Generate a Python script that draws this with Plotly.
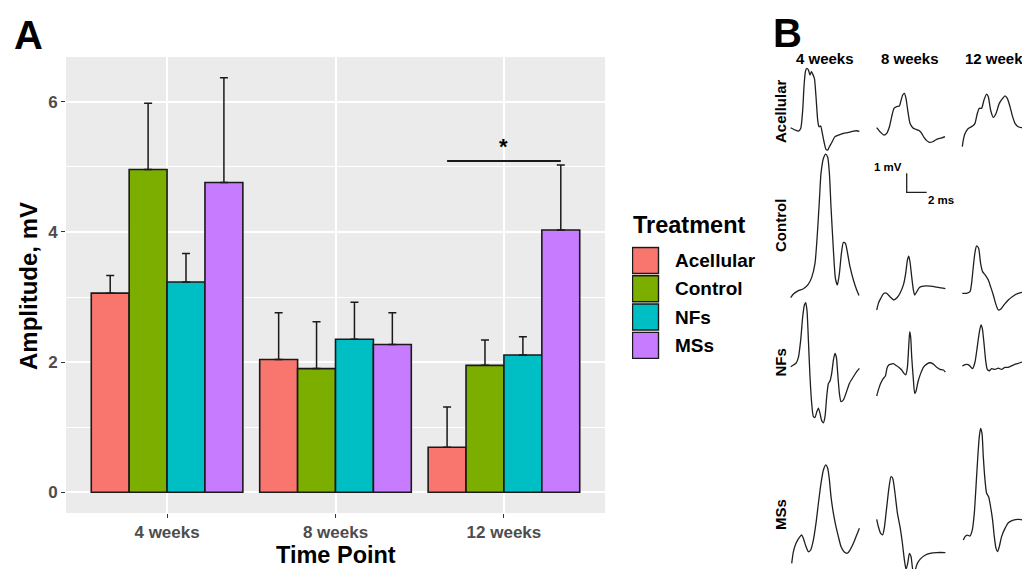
import plotly.graph_objects as go

W, H = 1022, 569
FONT = "Liberation Sans, Arial, sans-serif"

# ---------------- Panel A data ----------------
WEEKS = ["4 weeks", "8 weeks", "12 weeks"]
TREATMENTS = ["Acellular", "Control", "NFs", "MSs"]
COLORS = ["#F8766D", "#7CAE00", "#00BFC4", "#C77CFF"]

ACELLULAR_MEAN = [3.06, 2.04, 0.69]
CONTROL_MEAN = [4.96, 1.90, 1.95]
NFS_MEAN = [3.23, 2.35, 2.11]
MSS_MEAN = [4.76, 2.27, 4.03]

ACELLULAR_ERR = [0.27, 0.72, 0.62]
CONTROL_ERR = [1.02, 0.72, 0.39]
NFS_ERR = [0.44, 0.57, 0.28]
MSS_ERR = [1.61, 0.49, 1.00]

SIG_Y = 5.09          # height of the significance bracket (12 weeks)
SIG_LABEL = "*"

# ---------------- Panel B data (ms, mV) ----------------
ACEL_4W_T = [0, 0.43, 0.77, 1.0, 1.2, 1.33, 1.47, 1.6, 1.77, 1.93, 2.07, 2.2, 2.37, 2.53, 2.7, 2.83, 3.0, 3.13, 3.33, 3.53, 3.7, 3.87, 4.1, 4.43, 4.77, 5.27, 5.77, 6.27, 6.6, 6.87]
ACEL_4W_V = [0, -0.12, -0.18, -0.04, 0.93, 2.16, 2.95, 3.12, 3.04, 2.77, 2.95, 2.82, 2.6, 1.63, 0.4, 0.05, 0.09, -0.21, -0.74, -1.14, -1.18, -1.0, -0.79, -0.47, -0.39, -0.3, -0.25, -0.18, -0.16, -0.19]
ACEL_8W_T = [0, 0.33, 0.73, 1.0, 1.27, 1.5, 1.73, 2.0, 2.27, 2.4, 2.6, 2.77, 2.93, 3.1, 3.33, 3.6, 3.93, 4.27, 4.5, 4.73, 5.0, 5.27, 5.6, 6.0, 6.5, 6.83]
ACEL_8W_V = [0, -0.21, -0.39, -0.3, 0.05, 0.58, 1.02, 1.11, 1.14, 1.37, 1.72, 1.81, 1.54, 0.93, 0.23, 0, -0.09, -0.16, -0.3, -0.51, -0.68, -0.77, -0.74, -0.61, -0.54, -0.47]
ACEL_12W_T = [0, 0.1, 0.27, 0.6, 1.03, 1.27, 1.5, 1.7, 1.93, 2.17, 2.43, 2.6, 2.83, 3.1, 3.37, 3.7, 4.03, 4.27, 4.5, 4.77, 5.03, 5.27, 5.6, 5.93, 6.4]
ACEL_12W_V = [0, 0.35, 0.7, 0.96, 1.09, 1.23, 1.75, 2.02, 2.02, 2.46, 2.77, 2.63, 1.93, 1.54, 1.75, 2.28, 2.54, 2.68, 2.54, 2.11, 1.58, 1.23, 1.05, 1.0, 0.98]

CTRL_4W_T = [0, 0.27, 0.77, 1.27, 1.77, 2.1, 2.43, 2.67, 2.87, 3.03, 3.27, 3.5, 3.7, 3.87, 4.03, 4.27, 4.47, 4.67, 4.87, 5.07, 5.27, 5.47, 5.7, 5.93, 6.27, 6.6, 6.83]
CTRL_4W_V = [0, 0.19, 0.37, 0.47, 0.72, 1.07, 1.81, 3.39, 5.14, 6.54, 7.33, 7.56, 7.39, 6.54, 4.79, 2.51, 1.02, 0.67, 1.28, 2.33, 2.91, 2.86, 2.3, 1.63, 0.93, 0.4, 0.11]
CTRL_8W_T = [0, 0.17, 0.4, 0.73, 1.0, 1.33, 1.73, 2.07, 2.33, 2.67, 2.9, 3.07, 3.2, 3.33, 3.5, 3.67, 3.8, 4.0, 4.27, 4.67, 5.33, 6.17, 6.87]
CTRL_8W_V = [0, 0.35, 0.61, 0.88, 0.88, 0.7, 0.53, 0.67, 0.88, 1.32, 1.93, 2.63, 2.84, 2.54, 1.75, 1.05, 0.79, 0.96, 1.19, 1.26, 1.26, 1.19, 1.12]
CTRL_12W_T = [0, 0.43, 0.77, 0.93, 1.1, 1.27, 1.43, 1.63, 1.83, 2.03, 2.3, 2.6, 2.83, 3.1, 3.33, 3.6, 3.83, 4.17, 4.6, 5.1, 5.6, 6.0, 6.4]
CTRL_12W_V = [0, 0, 0.09, 0.53, 1.4, 2.16, 2.49, 2.37, 1.58, 1.14, 0.96, 0.7, 0.35, -0.09, -0.53, -0.88, -0.84, -0.61, -0.35, -0.14, 0, 0.05, 0.07]

NFS_4W_T = [0, 0.27, 0.53, 0.77, 1.0, 1.2, 1.37, 1.5, 1.63, 1.77, 1.93, 2.1, 2.27, 2.43, 2.6, 2.77, 2.93, 3.1, 3.27, 3.43, 3.6, 3.77, 3.93, 4.1, 4.27, 4.43, 4.57, 4.7, 4.87, 5.03, 5.27, 5.53, 5.87, 6.27, 6.6, 6.87]
NFS_4W_V = [0, 0.09, 0.18, 0.49, 1.4, 2.63, 3.25, 3.37, 2.95, 1.4, -0.53, -1.93, -2.63, -2.67, -2.39, -2.18, -2.46, -2.84, -2.95, -2.63, -1.58, -0.88, -0.75, -0.35, 0.35, 0.7, 0.49, -0.35, -1.4, -1.84, -1.75, -1.4, -0.88, -0.53, -0.26, -0.09]
NFS_8W_T = [0, 0.17, 0.4, 0.67, 0.87, 1.03, 1.2, 1.43, 1.67, 1.93, 2.2, 2.5, 2.73, 2.9, 3.07, 3.2, 3.3, 3.4, 3.5, 3.67, 3.8, 3.93, 4.13, 4.4, 4.67, 5.0, 5.33, 5.67, 6.0, 6.33, 6.67, 6.87]
NFS_8W_V = [0, 0.32, 0.67, 0.93, 1.05, 1.46, 1.63, 1.68, 1.7, 1.61, 1.51, 1.37, 1.19, 1.11, 1.51, 2.6, 3.39, 3.09, 2.07, 0.84, 0.14, 0.25, 0.75, 1.19, 1.51, 1.68, 1.75, 1.68, 1.51, 1.4, 1.37, 1.26]
NFS_12W_T = [0, 0.27, 0.6, 0.83, 1.03, 1.27, 1.5, 1.7, 1.87, 2.0, 2.17, 2.33, 2.5, 2.7, 2.93, 3.27, 3.6, 3.93, 4.27, 4.6, 5.1, 5.6, 6.0, 6.4]
NFS_12W_V = [0, 0.07, 0.07, -0.04, -0.14, 0.21, 1.02, 1.77, 2.16, 1.98, 1.19, 0.32, -0.18, -0.25, -0.14, -0.18, -0.11, -0.18, -0.07, -0.07, 0.05, 0.14, 0.21, 0.26]

MSS_4W_T = [0, 0.17, 0.43, 0.77, 1.0, 1.17, 1.43, 1.67, 1.9, 2.17, 2.43, 2.67, 2.93, 3.17, 3.4, 3.6, 3.77, 3.93, 4.17, 4.43, 4.67, 4.93, 5.23, 5.57, 5.83, 6.17, 6.5, 6.77]
MSS_4W_V = [0, 0.61, 1.05, 1.37, 1.49, 1.3, 0.88, 0.61, 0.7, 1.23, 2.11, 3.16, 4.21, 4.91, 5.18, 5.0, 4.39, 3.51, 2.63, 1.93, 1.4, 0.88, 0.61, 0.53, 0.7, 1.05, 1.49, 1.84]
MSS_8W_T = [0, 0.17, 0.4, 0.6, 0.77, 1.0, 1.23, 1.43, 1.6, 1.83, 2.07, 2.33, 2.57, 2.77, 2.93, 3.1, 3.27, 3.43, 3.6, 3.77, 4.0, 4.33, 4.83, 5.33, 6.0, 6.87]
MSS_8W_V = [0, -0.39, -0.74, -0.82, -0.42, 0.63, 1.68, 2.25, 2.16, 1.37, 0.32, -0.39, -1.26, -2.14, -2.63, -2.32, -1.79, -1.96, -2.63, -2.84, -2.4, -2.11, -1.89, -1.79, -1.75, -1.75]
MSS_12W_T = [0, 0.17, 0.4, 0.67, 0.9, 1.1, 1.27, 1.43, 1.6, 1.73, 1.87, 2.0, 2.17, 2.33, 2.53, 2.73, 2.93, 3.1, 3.27, 3.43, 3.6, 3.83, 4.17, 4.5, 5.0, 5.5, 6.0, 6.4]
MSS_12W_V = [0, 0.18, 0.26, 0.21, 0.53, 1.4, 2.81, 4.21, 5.44, 5.88, 5.61, 4.39, 3.16, 2.46, 2.28, 1.75, 1.05, 0.18, -0.44, -0.61, -0.35, 0.18, 0.61, 0.91, 1.05, 1.09, 1.05, 1.05]

B_ROWS = ["Acellular", "Control", "NFs", "MSs"]
B_COLS = ["4 weeks", "8 weeks", "12 weeks"]
SCALE_MV = 1
SCALE_MS = 2
SCALE_LABELS = ["1 mV", "2 ms"]

WAVES = {
    (0, 0): (ACEL_4W_T, ACEL_4W_V), (0, 1): (ACEL_8W_T, ACEL_8W_V), (0, 2): (ACEL_12W_T, ACEL_12W_V),
    (1, 0): (CTRL_4W_T, CTRL_4W_V), (1, 1): (CTRL_8W_T, CTRL_8W_V), (1, 2): (CTRL_12W_T, CTRL_12W_V),
    (2, 0): (NFS_4W_T, NFS_4W_V), (2, 1): (NFS_8W_T, NFS_8W_V), (2, 2): (NFS_12W_T, NFS_12W_V),
    (3, 0): (MSS_4W_T, MSS_4W_V), (3, 1): (MSS_8W_T, MSS_8W_V), (3, 2): (MSS_12W_T, MSS_12W_V),
}

# ---------------- layout helpers (pixel placement) ----------------
PX_PER_MS = 10.0
PX_PER_MV = 19.0
# pixel position of each trace start (x, y)
CELL_ORIGIN_PX = {
    (0, 0): (790.7, 127.7), (0, 1): (876.7, 127.7), (0, 2): (962.3, 146.7),
    (1, 0): (790.7, 297.7), (1, 1): (876.7, 310.0), (1, 2): (962.3, 293.3),
    (2, 0): (790.7, 366.7), (2, 1): (876.7, 396.0), (2, 2): (962.3, 366.0),
    (3, 0): (791.7, 563.3), (3, 1): (876.7, 519.3), (3, 2): (963.3, 540.0),
}


def xd(a, b):
    return [a / W, b / W]


def yd(top, bottom):
    return [1 - bottom / H, 1 - top / H]


def px_axes(x0, y0, left, right, up, down):
    xl, xr = max(x0 - left, 0), min(x0 + right, W)
    yt, yb = max(y0 - up, 0), min(y0 + down, H)
    xa = dict(domain=xd(xl, xr), range=[(xl - x0) / PX_PER_MS, (xr - x0) / PX_PER_MS], visible=False, fixedrange=True)
    ya = dict(domain=yd(yt, yb), range=[(y0 - yb) / PX_PER_MV, (y0 - yt) / PX_PER_MV], visible=False, fixedrange=True)
    return xa, ya


fig = go.Figure()

# ---------------- Panel A ----------------
X_POS = list(range(1, len(WEEKS) + 1))
GROUP_W = 0.9
means = [ACELLULAR_MEAN, CONTROL_MEAN, NFS_MEAN, MSS_MEAN]
errs = [ACELLULAR_ERR, CONTROL_ERR, NFS_ERR, MSS_ERR]
for name, col, m, e in zip(TREATMENTS, COLORS, means, errs):
    fig.add_trace(go.Bar(
        x=X_POS, y=m, name=name, marker=dict(color=col, line=dict(color="#1a1a1a", width=1.6)),
        error_y=dict(type="data", symmetric=False, array=e, arrayminus=[0] * len(e),
                     color="#1a1a1a", thickness=1.5, width=4),
        showlegend=False, xaxis="x", yaxis="y", hoverinfo="skip"))

off = GROUP_W / len(TREATMENTS) * (len(TREATMENTS) - 1) / 2
fig.add_trace(go.Scatter(x=[X_POS[2] - off, X_POS[2] + off], y=[SIG_Y, SIG_Y], mode="lines",
                         line=dict(color="#1a1a1a", width=2), showlegend=False, xaxis="x", yaxis="y"))

layout = dict(
    width=W, height=H, margin=dict(l=0, r=0, t=0, b=0),
    paper_bgcolor="white", plot_bgcolor="rgba(0,0,0,0)",
    barmode="group", bargap=1 - GROUP_W, bargroupgap=0,
    font=dict(family=FONT, color="black"),
    showlegend=False,
    xaxis=dict(domain=xd(66, 605), range=[0.4, 3.6], tickmode="array", tickvals=X_POS, ticktext=WEEKS,
               showgrid=True, gridcolor="white", gridwidth=1.8, zeroline=False, showline=False,
               ticks="outside", ticklen=4, tickwidth=1.2, tickcolor="#333333",
               tickfont=dict(size=17, color="#4D4D4D", family=FONT, weight="bold"), fixedrange=True),
    yaxis=dict(domain=yd(57, 513), range=[-0.32, 6.69], tickmode="array", tickvals=[0, 2, 4, 6],
               showgrid=True, gridcolor="white", gridwidth=1.8, zeroline=False, showline=False,
               ticks="outside", ticklen=4, tickwidth=1.2, tickcolor="#333333",
               minor=dict(tickmode="array", tickvals=[1, 3, 5], showgrid=True, gridcolor="white", gridwidth=0.9),
               tickfont=dict(size=17, color="#4D4D4D", family=FONT, weight="bold"), fixedrange=True),
)

shapes = [dict(type="rect", xref="x domain", yref="y domain", x0=0, x1=1, y0=0, y1=1,
               fillcolor="#EBEBEB", line=dict(width=0), layer="below")]

annotations = [
    dict(text="A", x=12 / W, y=1 - 35 / H, xref="paper", yref="paper", xanchor="left", yanchor="middle",
         showarrow=False, font=dict(size=40, weight="bold", family=FONT)),
    dict(text="B", x=771 / W, y=1 - 33 / H, xref="paper", yref="paper", xanchor="left", yanchor="middle",
         showarrow=False, font=dict(size=40, weight="bold", family=FONT)),
    dict(text="Amplitude, mV", x=28 / W, y=1 - 286 / H, xref="paper", yref="paper", textangle=-90,
         xanchor="center", yanchor="middle", showarrow=False, font=dict(size=24, weight="bold", family=FONT)),
    dict(text="Time Point", x=335.5 / W, y=1 - 555 / H, xref="paper", yref="paper",
         xanchor="center", yanchor="middle", showarrow=False, font=dict(size=23.5, weight="bold", family=FONT)),
    dict(text=SIG_LABEL, x=X_POS[2], y=SIG_Y, xref="x", yref="y", xanchor="center", yanchor="bottom",
         showarrow=False, font=dict(size=22, weight="bold", family=FONT)),
    dict(text="Treatment", x=631 / W, y=1 - 225 / H, xref="paper", yref="paper", xanchor="left", yanchor="middle",
         showarrow=False, font=dict(size=23.5, weight="bold", family=FONT)),
]

# ---------------- Legend (drawn as its own small axis) ----------------
layout["xaxis2"] = dict(domain=xd(632, 770), range=[-13.5, 124.5], visible=False, fixedrange=True)
layout["yaxis2"] = dict(domain=yd(246.3, 359.5), range=[len(TREATMENTS) - 0.5, -0.5], visible=False, fixedrange=True)
fig.add_trace(go.Scatter(x=[0] * len(TREATMENTS), y=list(range(len(TREATMENTS))), mode="markers",
                         marker=dict(symbol="square", size=26, color=COLORS, line=dict(color="#1a1a1a", width=1.4)),
                         xaxis="x2", yaxis="y2", showlegend=False, hoverinfo="skip"))
for i, name in enumerate(TREATMENTS):
    annotations.append(dict(text=name, x=27, y=i, xref="x2", yref="y2", xanchor="left", yanchor="middle",
                            showarrow=False, font=dict(size=19, weight="bold", family=FONT)))

# ---------------- Panel B ----------------
n = 3
for (r, c), (t, v) in WAVES.items():
    x0, y0 = CELL_ORIGIN_PX[(r, c)]
    xa, ya = px_axes(x0, y0, 4, 80, 150, 62)
    layout[f"xaxis{n}"] = dict(xa, anchor=f"y{n}")
    layout[f"yaxis{n}"] = dict(ya, anchor=f"x{n}")
    fig.add_trace(go.Scatter(x=t, y=v, mode="lines", line=dict(color="#1f1f1f", width=1.3, shape="spline", smoothing=0.6),
                             xaxis=f"x{n}", yaxis=f"y{n}", showlegend=False, hoverinfo="skip"))
    n += 1

# scale bar
xa, ya = px_axes(906.7, 192.3, 4, 30, 25, 5)
layout[f"xaxis{n}"] = dict(xa, anchor=f"y{n}")
layout[f"yaxis{n}"] = dict(ya, anchor=f"x{n}")
fig.add_trace(go.Scatter(x=[0, 0, SCALE_MS], y=[SCALE_MV, 0, 0], mode="lines",
                         line=dict(color="#1f1f1f", width=1.3), xaxis=f"x{n}", yaxis=f"y{n}",
                         showlegend=False, hoverinfo="skip"))
annotations.append(dict(text=SCALE_LABELS[0], x=0, y=SCALE_MV, xref=f"x{n}", yref=f"y{n}", xanchor="right",
                        yanchor="bottom", yshift=-2, xshift=-3, showarrow=False, font=dict(size=11.5, weight="bold", family=FONT)))
annotations.append(dict(text=SCALE_LABELS[1], x=SCALE_MS, y=0, xref=f"x{n}", yref=f"y{n}", xanchor="left",
                        yanchor="top", yshift=0, xshift=-1, showarrow=False, font=dict(size=11.5, weight="bold", family=FONT)))

# column headers and row labels of panel B
COL_X_PX = [825, 910, 963]
for i, lab in enumerate(B_COLS):
    annotations.append(dict(text=lab, x=COL_X_PX[i] / W, y=1 - 58.5 / H, xref="paper", yref="paper",
                            xanchor="center" if i < 2 else "left", yanchor="middle", showarrow=False,
                            font=dict(size=15, weight="bold", family=FONT)))
ROW_Y_PX = [111, 226, 362.5, 515]
for i, lab in enumerate(B_ROWS):
    annotations.append(dict(text=lab, x=780 / W, y=1 - ROW_Y_PX[i] / H, xref="paper", yref="paper", textangle=-90,
                            xanchor="center", yanchor="middle", showarrow=False,
                            font=dict(size=15, weight="bold", family=FONT)))

layout["annotations"] = annotations
layout["shapes"] = shapes
fig.update_layout(**layout)
fig.write_html("out.html", config={"displayModeBar": False},
               post_script="document.body.style.margin='0';document.body.style.overflow='hidden';")
